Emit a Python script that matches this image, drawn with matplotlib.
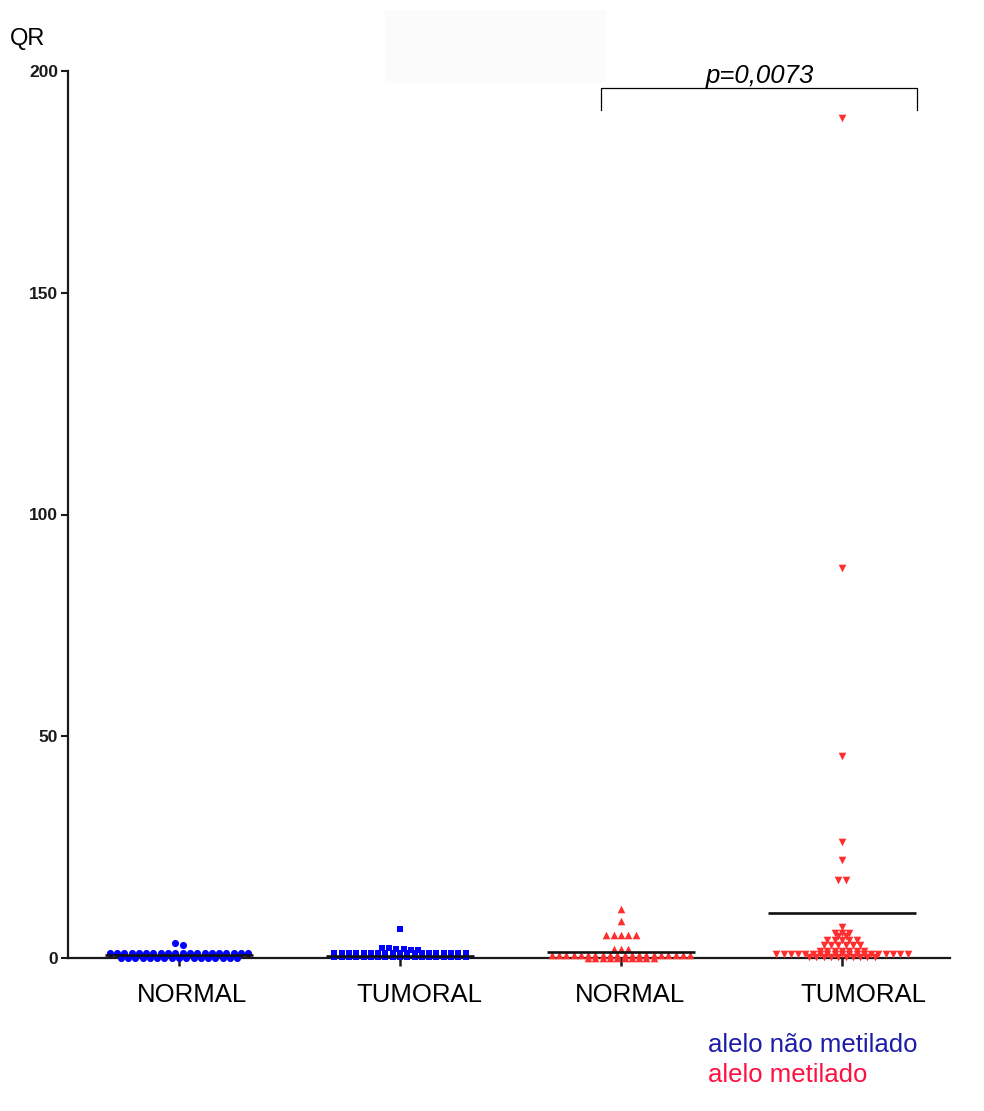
import numpy as np
import matplotlib.pyplot as plt
import matplotlib.transforms as mtransforms
from matplotlib.patches import Rectangle

plt.rcParams['font.family'] = ['Liberation Sans', 'DejaVu Sans']

# group labels along the x axis
groups = ["NORMAL", "TUMORAL", "NORMAL", "TUMORAL"]

# QR values (points sitting on the same row share a value)
normal_nao = [3.3, 2.95] + [1.1] * 20 + [0.1] * 17
tumoral_nao = [6.5, 2.2, 2.15, 2.1, 2.0, 1.9, 1.85] + [1.1] * 19 + [0.3] * 19
normal_met = [11.0, 8.3] + [5.2] * 5 + [2.0] * 3 + [0.6] * 20 + [0.05] * 10
tumoral_met = ([189.5, 88.0, 45.5, 26.2, 22.1, 17.6, 17.6, 7.0] + [5.6] * 3 + [5.0] * 2
               + [4.1] * 5 + [2.9] * 6 + [1.6] * 7 + [1.0] * 19 + [0.3] * 10)

# horizontal lines drawn through each group
mean_lines = [0.6, 0.5, 1.4, 10.1]

p_text = "p=0,0073"
legend_labels = ["alelo não metilado", "alelo metilado"]

BLUE = "#0000FF"
RED = "#FF2E2E"


def swarm(vals, tol=0.4, step=0.033):
    # put near-equal values on one row, centred on the group position
    vals = sorted(vals, reverse=True)
    rows = []
    for v in vals:
        if rows and rows[-1][0] - v <= tol:
            rows[-1].append(v)
        else:
            rows.append([v])
    xs, ys = [], []
    for row in rows:
        n = len(row)
        xs.extend((np.arange(n) - (n - 1) / 2) * step)
        ys.extend(row)
    return np.array(xs), np.array(ys)


fig = plt.figure(figsize=(9.84, 11.11), dpi=100)
ax = fig.add_axes([68 / 984, 1 - 958 / 1111, 882 / 984, 887 / 1111])

# faint scan patch at the top
fig.patches.append(Rectangle((385 / 984, 1 - 82 / 1111), 220 / 984, 72 / 1111,
                             transform=fig.transFigure, color="#FBFBFB", zorder=0))

series = [(normal_nao, "o", BLUE, 26), (tumoral_nao, "s", BLUE, 20),
          (normal_met, "^", RED, 30), (tumoral_met, "v", RED, 30)]

for i, (vals, mk, col, size) in enumerate(series):
    pos = i + 1
    dx, ys = swarm(vals)
    ax.scatter(pos + dx, ys, marker=mk, s=size, color=col, linewidths=0,
               clip_on=False, zorder=3)
    ax.plot([pos - 0.333, pos + 0.333], [mean_lines[i], mean_lines[i]],
            color="#111111", lw=1.9, solid_capstyle="butt", zorder=4, clip_on=False)

ax.set_xlim(0.4977, 4.489)
ax.set_ylim(0, 200)

for s in ["top", "right"]:
    ax.spines[s].set_visible(False)
for s in ["left", "bottom"]:
    ax.spines[s].set_linewidth(1.6)
    ax.spines[s].set_color("#1a1a1a")
    ax.spines[s].set_zorder(2)

ax.set_yticks([0, 50, 100, 150, 200])
ax.tick_params(axis="y", direction="out", length=5, width=1.5, pad=2,
               labelsize=12.5, colors="#1a1a1a")
for t in ax.get_yticklabels():
    t.set_fontweight("bold")
ax.set_xticks([1, 2, 3, 4])
ax.set_xticklabels([])
ax.tick_params(axis="x", direction="out", length=6, width=1.8, colors="#1a1a1a")

# x labels sit a bit to the right of their ticks in the original
label_shift_px = [13, 19, 9, 21]
blend = mtransforms.blended_transform_factory(ax.transData, ax.transAxes)
for i, lab in enumerate(groups):
    tr = mtransforms.offset_copy(blend, fig=fig, x=label_shift_px[i], y=0, units="dots")
    ax.text(i + 1, -0.0285, lab, transform=tr, ha="center", va="top", fontsize=18.5)

# significance bracket between the two methylated groups
ax.plot([2.91, 2.91, 4.34, 4.34], [191.2, 196.2, 196.2, 191.2], color="black",
        lw=0.9, clip_on=False)
ax.text(3.63, 197.3, p_text, ha="center", va="baseline", fontsize=18.5, style="italic")

fig.text(10 / 984, 1 - 45 / 1111, "QR", fontsize=17, va="baseline")
fig.text(708 / 984, 1 - 1052 / 1111, legend_labels[0], fontsize=18.5, color="#1C1CA8",
         va="baseline")
fig.text(708 / 984, 1 - 1082 / 1111, legend_labels[1], fontsize=18.5, color="#FF1040",
         va="baseline")

fig.savefig("out.png", dpi=100)
